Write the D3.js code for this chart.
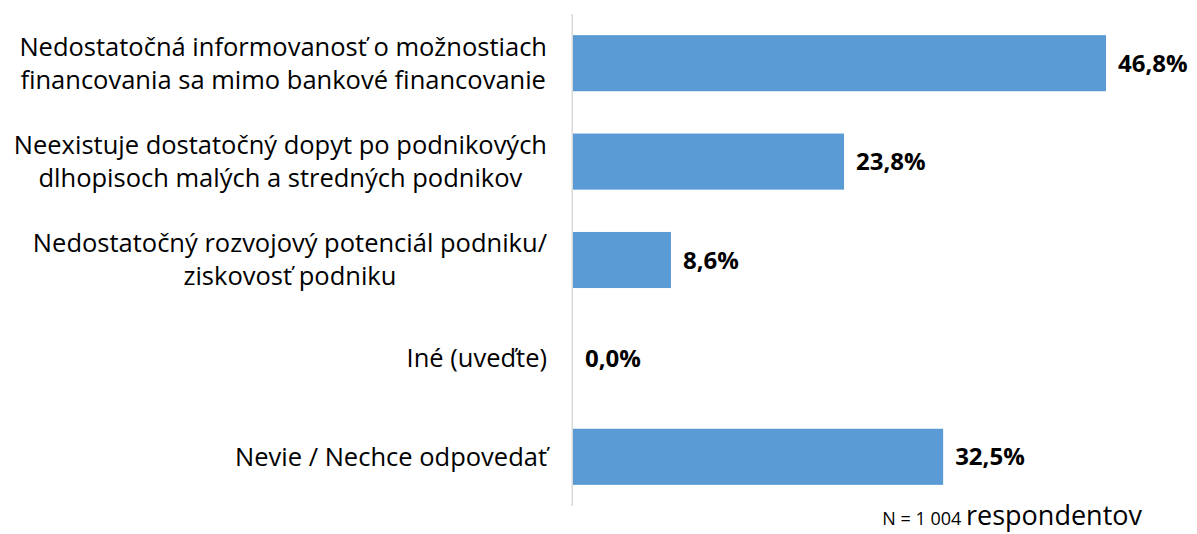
<!DOCTYPE html>
<html>
<head>
<meta charset="utf-8">
<script src="https://cdn.jsdelivr.net/npm/d3@7"></script>
<style>
  body { margin: 0; background: #fff; }
  text { font-family: "Open Sans", "Noto Sans", sans-serif; fill: #000; }
</style>
</head>
<body>
<div id="chart"></div>
<script>
// kategórie (riadky textu) a hodnoty v %
const categories = [
    ["Nedostatočná informovanosť o možnostiach", "financovania sa mimo bankové financovanie"],
    ["Neexistuje dostatočný dopyt po podnikových", "dlhopisoch malých a stredných podnikov"],
    ["Nedostatočný rozvojový potenciál podniku/", "ziskovosť podniku"],
    ["Iné (uveďte)"],
    ["Nevie / Nechce odpovedať"]
];
const values = [46.8, 23.8, 8.6, 0.0, 32.5];
const valueLabels = ["46,8%", "23,8%", "8,6%", "0,0%", "32,5%"];
const noteSmall = "N = 1 004";
const noteBig = "respondentov";

const width = 1197;
const height = 534;
const margin = { top: 14, right: 91, bottom: 28, left: 573 };

const svg = d3.select("#chart")
    .append("svg")
    .attr("width", width)
    .attr("height", height);

const x = d3.scaleLinear()
    .domain([0, 46.8])
    .range([margin.left, width - margin.right]);

const y = d3.scaleBand()
    .domain(d3.range(categories.length))
    .range([margin.top, height - margin.bottom])
    .paddingInner(0.43)
    .paddingOuter(0.215);

// stĺpce
svg.selectAll(".bar")
    .data(values)
    .enter().append("rect")
    .attr("class", "bar")
    .attr("x", x(0))
    .attr("y", (d, i) => y(i))
    .attr("width", d => x(d) - x(0))
    .attr("height", y.bandwidth())
    .attr("fill", "#5b9bd5");

// os Y (len čiara)
svg.append("line")
    .attr("x1", x(0) - 0.75)
    .attr("x2", x(0) - 0.75)
    .attr("y1", margin.top)
    .attr("y2", height - margin.bottom)
    .attr("stroke", "#d9d9d9")
    .attr("stroke-width", 1.5);

// popisky kategórií - riadky centrované v bloku, blok zarovnaný vpravo k osi
const lineH = 33;
const labelRight = 547;
svg.selectAll(".cat")
    .data(categories)
    .enter().append("text")
    .attr("class", "cat")
    .attr("text-anchor", "middle")
    .style("font-size", "25.5px")
    .each(function(lines, i) {
        const cy = y(i) + y.bandwidth() / 2;
        const t = d3.select(this);
        const spans = lines.map((ln, k) => t.append("tspan")
            .attr("y", cy + (k - (lines.length - 1) / 2) * lineH)
            .attr("dy", "0.35em")
            .text(ln));
        const maxW = d3.max(spans, s => s.node().getComputedTextLength());
        spans.forEach(s => s.attr("x", labelRight - maxW / 2));
    });

// hodnoty
svg.selectAll(".val")
    .data(values)
    .enter().append("text")
    .attr("class", "val")
    .attr("x", d => x(d) + 12)
    .attr("y", (d, i) => y(i) + y.bandwidth() / 2)
    .attr("dy", "0.36em")
    .style("font-size", "24px")
    .style("font-weight", "bold")
    .text((d, i) => valueLabels[i]);

// poznámka
const note = svg.append("text")
    .attr("x", 1142)
    .attr("y", 525)
    .attr("text-anchor", "end");
note.append("tspan").style("font-size", "18px").text(noteSmall + " ");
note.append("tspan").style("font-size", "27px").text(noteBig);
</script>
</body>
</html>
